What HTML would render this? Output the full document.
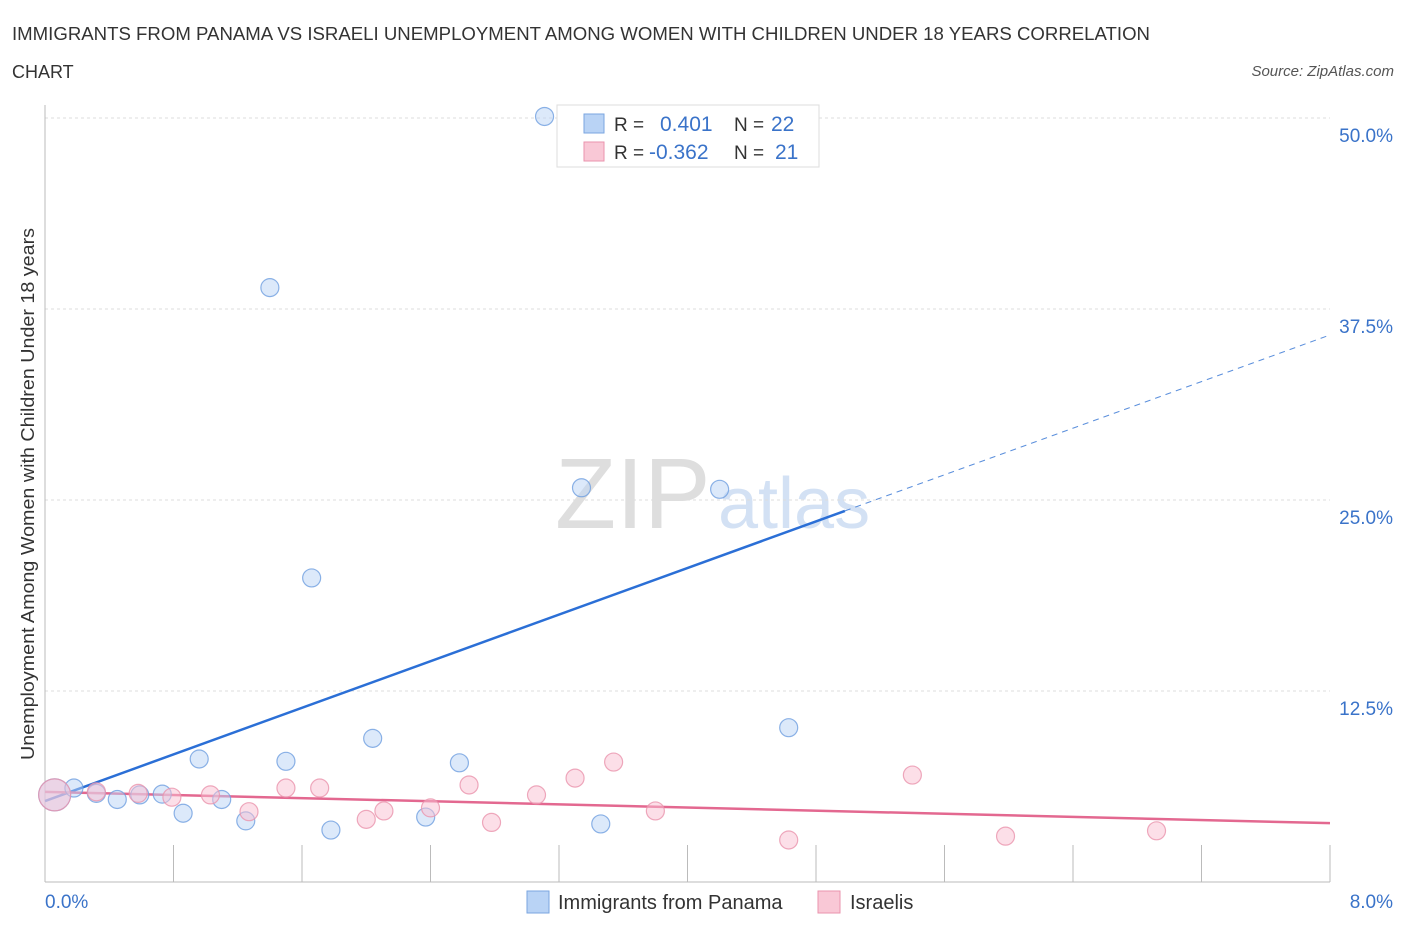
<!DOCTYPE html>
<html><head><meta charset="utf-8"><style>
body{margin:0;background:#fff;font-family:"Liberation Sans",sans-serif}
svg text{font-family:"Liberation Sans",sans-serif}
</style></head><body>
<svg width="1406" height="930">
<text x="12" y="40" font-size="18" fill="#333" textLength="1138" lengthAdjust="spacingAndGlyphs">IMMIGRANTS FROM PANAMA VS ISRAELI UNEMPLOYMENT AMONG WOMEN WITH CHILDREN UNDER 18 YEARS CORRELATION</text>
<text x="12" y="78" font-size="18" fill="#333">CHART</text>
<text x="1394" y="76" font-size="15" fill="#555" font-style="italic" text-anchor="end">Source: ZipAtlas.com</text>
<text x="555" y="528" font-size="100" fill="#dedede" font-family="Liberation Serif">ZIP</text>
<text x="718" y="528" font-size="72" fill="#d3e1f4">atlas</text>
<text transform="translate(34,494) rotate(-90)" font-size="18" fill="#333" text-anchor="middle" textLength="532" lengthAdjust="spacingAndGlyphs">Unemployment Among Women with Children Under 18 years</text>
<g id="grid"></g><g id="axes"></g><g id="lines"></g><g id="pts"></g>
<g>
<rect x="557" y="105" width="262" height="62" fill="#fff" stroke="#ddd"/>
<rect x="584" y="114" width="20" height="19" fill="#b9d3f5" stroke="#7aa6e0"/>
<rect x="584" y="142" width="20" height="19" fill="#f9c8d6" stroke="#ea93ad"/>
<text x="614" y="131" font-size="19" fill="#333">R =</text>
<text x="660" y="131" font-size="21" fill="#3a73c9">0.401</text>
<text x="734" y="131" font-size="19" fill="#333">N =</text>
<text x="771" y="131" font-size="21" fill="#3a73c9">22</text>
<text x="614" y="159" font-size="19" fill="#333">R =</text>
<text x="649" y="159" font-size="21" fill="#3a73c9">-0.362</text>
<text x="734" y="159" font-size="19" fill="#333">N =</text>
<text x="775" y="159" font-size="21" fill="#3a73c9">21</text>
</g>
<text x="45" y="908" font-size="19" fill="#3a73c9">0.0%</text>
<text x="1393" y="908" font-size="19" fill="#3a73c9" text-anchor="end">8.0%</text>
<rect x="527" y="891" width="22" height="22" fill="#b9d3f5" stroke="#7aa6e0"/>
<text x="558" y="909" font-size="20" fill="#333">Immigrants from Panama</text>
<rect x="818" y="891" width="22" height="22" fill="#f9c8d6" stroke="#ea93ad"/>
<text x="850" y="909" font-size="20" fill="#333">Israelis</text>
</svg>
<script>
const yTicks=[12.5,25,37.5,50];
const yTickLabels=["12.5%","25.0%","37.5%","50.0%"];
const blueX=[0.06,0.18,0.32,0.45,0.59,0.73,0.86,0.96,1.10,1.25,1.40,1.50,1.66,1.78,2.04,2.37,2.58,3.11,3.34,3.46,4.20,4.63];
const blueY=[5.7,6.15,5.8,5.4,5.7,5.75,4.5,8.05,5.4,4.0,38.9,7.9,19.9,3.4,9.4,4.25,7.8,50.1,25.8,3.8,25.7,10.1];
const pinkX=[0.06,0.32,0.58,0.79,1.03,1.27,1.50,1.71,2.00,2.11,2.40,2.64,2.78,3.06,3.30,3.54,3.80,4.63,5.40,5.98,6.92];
const pinkY=[5.7,5.9,5.8,5.55,5.7,4.6,6.15,6.15,4.1,4.65,4.85,6.35,3.9,5.7,6.8,7.85,4.65,2.75,7.0,3.0,3.35];
const blueTrend=[5.3,35.8];
const pinkTrend=[5.9,3.85];
const NS="http://www.w3.org/2000/svg";
const X=v=>45+v/8*1285, Y=v=>882-v*15.28;
function mk(tag,attrs,parent){const e=document.createElementNS(NS,tag);for(const k in attrs)e.setAttribute(k,attrs[k]);document.getElementById(parent).appendChild(e);return e;}
yTicks.forEach((t,i)=>{
 const g=mk('line',{x1:45,x2:1330,y1:Y(t),y2:Y(t),stroke:'#ddd','stroke-dasharray':'3,3'},'grid');
 
 
 const l=mk('text',{x:1393,y:Y(t)+24,'font-size':19,fill:'#3a73c9','text-anchor':'end'},'grid');
 l.textContent=yTickLabels[i];
 
 
});
const ax=mk('line',{x1:45,x2:45,y1:105,y2:882,stroke:'#bbb'},'axes');


const bx=mk('line',{x1:45,x2:1330,y1:882,y2:882,stroke:'#bbb'},'axes');


for(let i=1;i<=10;i++){
 const t=mk('line',{x1:X(i*0.8),x2:X(i*0.8),y1:845,y2:882,stroke:'#bbb'},'axes');
 
 
}
const xm=4.98;
const by=v=>blueTrend[0]+(blueTrend[1]-blueTrend[0])*v/8;
const b1=mk('line',{x1:X(0),y1:Y(by(0)),x2:X(xm),y2:Y(by(xm)),stroke:'#2b6fd6','stroke-width':2.5},'lines');


const b2=mk('line',{x1:X(xm),y1:Y(by(xm)),x2:X(8),y2:Y(by(8)),stroke:'#5b8fdc','stroke-width':1,'stroke-dasharray':'6,5'},'lines');


const p1=mk('line',{x1:X(0),y1:Y(pinkTrend[0]),x2:X(8),y2:Y(pinkTrend[1]),stroke:'#e36890','stroke-width':2.5},'lines');


function pts(xs,ys,fill,stroke,name){
 xs.forEach((x,i)=>{
  const r=i===0?16:9;
  const c=mk('circle',{cx:X(x),cy:Y(ys[i]),r:r,fill:fill,'fill-opacity':0.5,stroke:stroke,'stroke-width':1.2,'stroke-opacity':0.8},'pts');
  
  
 });
}
pts(blueX,blueY,'#b9d3f5','#6f9fe0','panama-point');
pts(pinkX,pinkY,'#f9c0d2','#ea93ad','israelis-point');
</script>
</body></html>
